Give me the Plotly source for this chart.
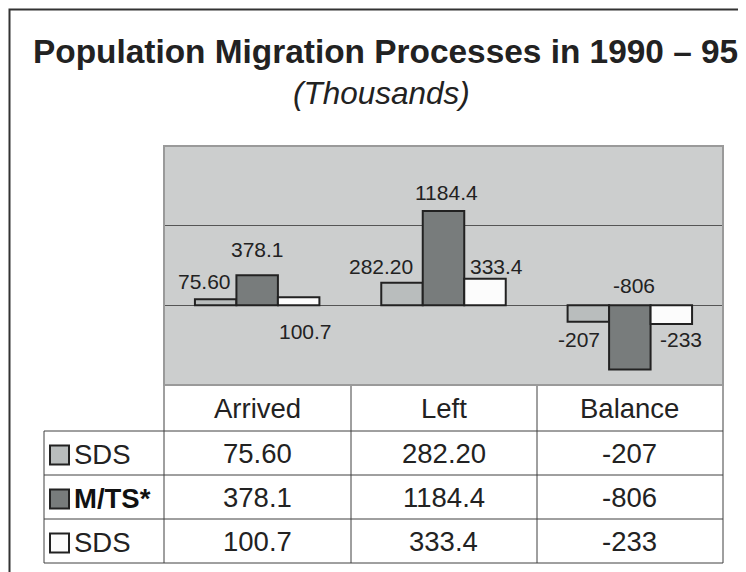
import plotly.graph_objects as go

# ---------------- data ----------------
categories = ["Arrived", "Left", "Balance"]
series_names = ["SDS", "M/TS*", "SDS"]
sds_a = [75.60, 282.20, -207]
mts = [378.1, 1184.4, -806]
sds_b = [100.7, 333.4, -233]
sds_a_text = ["75.60", "282.20", "-207"]
mts_text = ["378.1", "1184.4", "-806"]
sds_b_text = ["100.7", "333.4", "-233"]

# ---------------- layout geometry (page pixels) ----------------
OFF = 8                      # default page body margin
W, H = 746 - OFF, 572 - OFF  # figure size
L, R, T, B = 164, 723, 146, 385   # plot area in page pixels
FONT = "Liberation Sans, Arial, sans-serif"
TXT = "#222222"
colors = ["#b9bdbd", "#787c7c", "#fcfcfc"]
plot_bg = "#cccece"


def xp(px):
    return (px - L) / (R - L)


def yp(py):
    return (B - py) / (B - T)


series = [sds_a, mts, sds_b]
texts = [sds_a_text, mts_text, sds_b_text]

fig = go.Figure()
for name, vals, col in zip(series_names, series, colors):
    fig.add_trace(go.Bar(
        x=categories, y=vals, name=name,
        marker=dict(color=col, line=dict(color="#222222", width=2)),
        hoverinfo="skip",
    ))

# data-label offsets (pixels) relative to bar centre / bar end
bar_px = 41.5
label_dx = [[-11.5, -21, -9], [0, 3, 4], [6.5, 11, 10]]
label_dy = [[18, 16.6, -17.5], [25.5, 18.8, 84], [-34, 12.5, -15.5]]

ann = []
for j in range(3):
    for i, cat in enumerate(categories):
        ann.append(dict(
            x=cat, y=series[j][i], xref="x", yref="y",
            text=texts[j][i], showarrow=False,
            xshift=(j - 1) * bar_px + label_dx[j][i], yshift=label_dy[j][i],
            xanchor="center", yanchor="middle",
            font=dict(family=FONT, size=21, color=TXT),
        ))

# title
ann.append(dict(x=xp(385), y=yp(51), xref="paper", yref="paper",
                text="<b>Population Migration Processes in 1990 – 95</b>",
                showarrow=False, xanchor="center", yanchor="middle",
                font=dict(family=FONT, size=33.4, color=TXT)))
ann.append(dict(x=xp(381), y=yp(93), xref="paper", yref="paper",
                text="<i>(Thousands)</i>",
                showarrow=False, xanchor="center", yanchor="middle",
                font=dict(family=FONT, size=31.5, color=TXT)))

# table
row_mid = [408, 453, 497, 541]
TFS = 27.5
for cat in categories:
    ann.append(dict(x=cat, y=yp(row_mid[0]), xref="x", yref="paper",
                    text=cat, showarrow=False, xanchor="center", yanchor="middle",
                    font=dict(family=FONT, size=TFS, color=TXT)))
for r, (name, tx) in enumerate(zip(series_names, texts)):
    for i, cat in enumerate(categories):
        ann.append(dict(x=cat, y=yp(row_mid[r + 1]), xref="x", yref="paper",
                        text=tx[i], showarrow=False, xanchor="center", yanchor="middle",
                        font=dict(family=FONT, size=TFS, color=TXT)))
    label = f"<b>{name}</b>" if r == 1 else name
    ann.append(dict(x=xp(72), y=yp(row_mid[r + 1] + 1), xref="paper", yref="paper",
                    text=label, showarrow=False, xanchor="left", yanchor="middle",
                    font=dict(family=FONT, size=TFS, color="#111111" if r == 1 else TXT)))

shapes = []
LC = "#404040"


def line(x0, y0, x1, y1, color=LC, width=1):
    shapes.append(dict(type="line", xref="paper", yref="paper",
                       x0=xp(x0), y0=yp(y0), x1=xp(x1), y1=yp(y1),
                       line=dict(color=color, width=width)))


for yy in [431, 475, 519, 563]:
    line(44, yy, 723, yy)
for xx in [164, 351, 537, 723]:
    line(xx, 385, xx, 563)
line(44, 431, 44, 563)

# legend squares
for r in range(3):
    cy = row_mid[r + 1] + 2
    shapes.append(dict(type="rect", xref="paper", yref="paper",
                       x0=xp(50), x1=xp(69), y0=yp(cy - 9.5), y1=yp(cy + 9.5),
                       fillcolor=colors[r], line=dict(color="#222222", width=2)))

# plot area border
shapes.append(dict(type="rect", xref="paper", yref="paper", x0=0, x1=1, y0=0, y1=1,
                   line=dict(color="#9a9a9a", width=2), fillcolor="rgba(0,0,0,0)"))
# outer frame (left & top)
shapes.append(dict(type="path", xref="paper", yref="paper",
                   path=f"M {xp(9.5)},{yp(600)} L {xp(9.5)},{yp(9.5)} L {xp(780)},{yp(9.5)}",
                   line=dict(color="#333333", width=2)))

fig.update_layout(
    width=W, height=H,
    margin=dict(l=L - OFF, r=W - (R - OFF), t=T - OFF, b=H - (B - OFF), pad=0),
    paper_bgcolor="white", plot_bgcolor=plot_bg,
    barmode="group", bargap=0.332, bargroupgap=0,
    showlegend=False,
    annotations=ann, shapes=shapes,
    xaxis=dict(showticklabels=False, showgrid=False, zeroline=False,
               showline=False, ticks="", fixedrange=True),
    yaxis=dict(range=[-1000, 2000], dtick=1000, showticklabels=False,
               showgrid=True, gridcolor="#555555", gridwidth=1,
               zeroline=True, zerolinecolor="#555555", zerolinewidth=1,
               showline=False, ticks="", fixedrange=True),
)

fig.write_html("out.html", config={"displayModeBar": False})
